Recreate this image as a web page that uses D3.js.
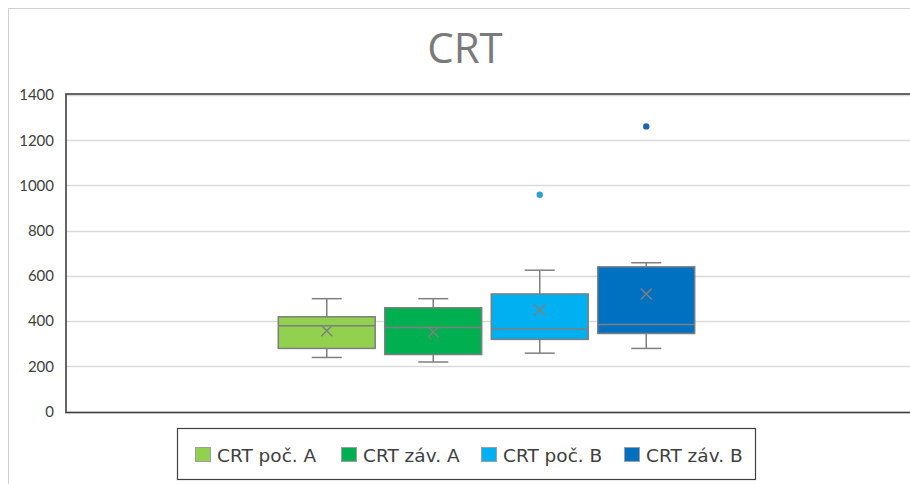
<!DOCTYPE html>
<html><head><meta charset="utf-8">
<script src="https://cdn.jsdelivr.net/npm/d3@7"></script>
<style>
html,body{margin:0;padding:0;background:#fff;}
svg{display:block;}
</style></head>
<body>
<svg id="chart" width="910" height="484"></svg>
<script>
const title = "CRT";
const series = ["CRT poč. A", "CRT záv. A", "CRT poč. B", "CRT záv. B"];
const mins    = [239, 219, 258, 279];
const q1s     = [279, 252, 319, 345];
const medians = [379, 372, 366, 385];
const q3s     = [419, 459, 520, 640];
const maxs    = [499, 499, 625, 658];
const means   = [357, 352, 449, 520];
const outliers = [[], [], [959], [1261]];
const yTicks = [0, 200, 400, 600, 800, 1000, 1200, 1400];
const colors = ["#92D050", "#00B050", "#00B0F0", "#0070C0"];
const outlierColors = ["#92D050", "#00B050", "#2E9FD6", "#1F64AD"];

const svg = d3.select("#chart");
const grey = "#7F7F7F";

// outer chart border
svg.append("rect").attr("x", 8.5).attr("y", 8.5).attr("width", 930).attr("height", 500)
  .attr("fill", "none").attr("stroke", "#D0D0D0").attr("stroke-width", 1);

// title
svg.append("text").attr("x", 465).attr("y", 63).attr("text-anchor", "middle")
  .attr("font-family", "Open Sans").attr("font-size", 42).attr("fill", "#7A7A7A")
  .text(title);

const plotL = 66, plotR = 915;
const y = d3.scaleLinear().domain([0, 1400]).range([411.5, 95]);
const x = d3.scaleBand().domain(series).range([273.5, 699.5]).paddingInner(0.09).paddingOuter(0.045);

// gridlines
svg.append("g").selectAll("line").data(yTicks).join("line")
  .attr("x1", plotL).attr("x2", plotR)
  .attr("y1", d => Math.round(y(d)) + 0.5).attr("y2", d => Math.round(y(d)) + 0.5)
  .attr("stroke", "#D9D9D9").attr("stroke-width", 1.5);

// axis labels
const yAxis = d3.axisLeft(y).tickValues(yTicks).tickSize(0).tickPadding(12).tickFormat(d3.format("d"));
const ga = svg.append("g").attr("transform", `translate(${plotL},0)`).call(yAxis);
ga.select(".domain").remove();
ga.selectAll("text").attr("font-family", "Lato").attr("font-size", 15).attr("fill", "#404040");

// plot border
svg.append("rect").attr("x", plotL).attr("y", y(1400) - 1).attr("width", plotR - plotL)
  .attr("height", y(0) - y(1400) + 2)
  .attr("fill", "none").attr("stroke", "#404040").attr("stroke-width", 1.6);

// boxes
const data = series.map((s, i) => ({ s, i, min: mins[i], q1: q1s[i], med: medians[i], q3: q3s[i], max: maxs[i], mean: means[i], out: outliers[i] }));
const bw = x.bandwidth();
const g = svg.append("g").selectAll("g").data(data).join("g");
const cx = d => x(d.s) + bw / 2;

// whiskers
g.append("line").attr("x1", cx).attr("x2", cx).attr("y1", d => y(d.max)).attr("y2", d => y(d.q3))
  .attr("stroke", grey).attr("stroke-width", 1.5);
g.append("line").attr("x1", cx).attr("x2", cx).attr("y1", d => y(d.q1)).attr("y2", d => y(d.min))
  .attr("stroke", grey).attr("stroke-width", 1.5);
g.append("line").attr("x1", d => cx(d) - 15).attr("x2", d => cx(d) + 15).attr("y1", d => y(d.max)).attr("y2", d => y(d.max))
  .attr("stroke", grey).attr("stroke-width", 1.5);
g.append("line").attr("x1", d => cx(d) - 15).attr("x2", d => cx(d) + 15).attr("y1", d => y(d.min)).attr("y2", d => y(d.min))
  .attr("stroke", grey).attr("stroke-width", 1.5);
// box
g.append("rect").attr("x", d => x(d.s)).attr("width", bw)
  .attr("y", d => y(d.q3)).attr("height", d => y(d.q1) - y(d.q3))
  .attr("fill", d => colors[d.i]).attr("stroke", grey).attr("stroke-width", 1.5);
// median
g.append("line").attr("x1", d => x(d.s)).attr("x2", d => x(d.s) + bw)
  .attr("y1", d => y(d.med)).attr("y2", d => y(d.med))
  .attr("stroke", grey).attr("stroke-width", 1.5);
// mean X
g.append("path").attr("d", d => {
  const c = cx(d), m = y(d.mean), r = 5.5;
  return `M${c - r},${m - r}L${c + r},${m + r}M${c - r},${m + r}L${c + r},${m - r}`;
}).attr("stroke", grey).attr("stroke-width", 1.5).attr("fill", "none");
// outliers
g.selectAll("circle").data(d => d.out.map(v => ({ v, d }))).join("circle")
  .attr("cx", o => cx(o.d)).attr("cy", o => y(o.v)).attr("r", 3.2)
  .attr("fill", o => outlierColors[o.d.i]);

// legend
const legX = [195, 341, 481, 624];
const lg = svg.append("g");
lg.append("rect").attr("x", 177.5).attr("y", 428.5).attr("width", 578).attr("height", 51)
  .attr("fill", "#fff").attr("stroke", "#404040").attr("stroke-width", 1.2);
const li = lg.selectAll("g.item").data(series).join("g").attr("class", "item")
  .attr("transform", (d, i) => `translate(${legX[i]},447)`);
li.append("rect").attr("x", 0.5).attr("y", 0.5).attr("width", 15).attr("height", 14)
  .attr("fill", (d, i) => colors[i]).attr("stroke", "#A0A0A0").attr("stroke-width", 1);
li.append("text").attr("x", 22).attr("y", 14.5)
  .attr("font-family", "DejaVu Sans").attr("font-size", 18.5).attr("fill", "#404040")
  .text(d => d);
</script>
</body></html>
